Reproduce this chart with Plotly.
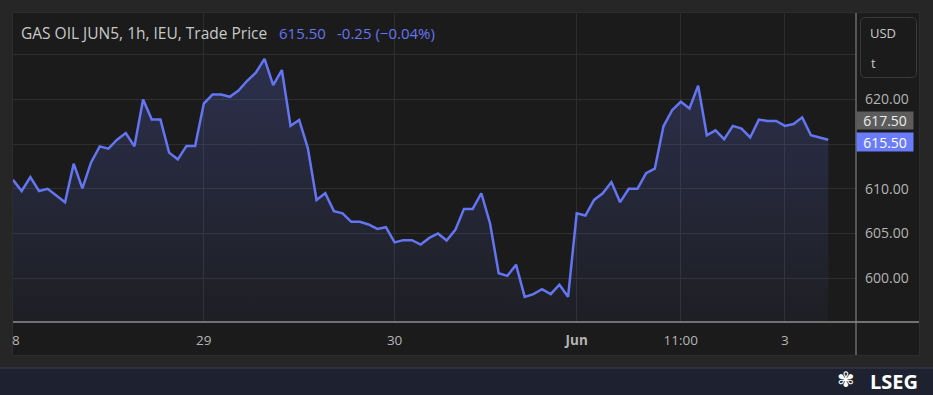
import plotly.graph_objects as go

# ---------------- data ----------------
prices = [
    611.0, 609.75, 611.3, 609.75, 610.0, 609.3, 608.5, 612.8, 610.05, 612.95,
    614.75, 614.5, 615.5, 616.25, 614.75, 620.0, 617.75, 617.75, 614.05, 613.3,
    614.8, 614.8, 619.55, 620.55, 620.55, 620.3, 621.0, 622.1, 623.0, 624.55,
    621.6, 623.3, 617.05, 617.7, 614.55, 608.75, 609.5, 607.5, 607.25, 606.3,
    606.3, 606.0, 605.5, 605.7, 604.0, 604.25, 604.25, 603.75, 604.5, 605.0,
    604.2, 605.4, 607.75, 607.75, 609.5, 606.15, 600.55, 600.25, 601.5, 597.9,
    598.2, 598.75, 598.2, 599.25, 597.9, 607.25, 607.0, 608.75, 609.5, 610.75,
    608.5, 610.0, 610.0, 611.75, 612.25, 617.0, 618.8, 619.75, 619.0, 621.55,
    616.0, 616.55, 615.55, 617.05, 616.75, 615.75, 617.75, 617.6, 617.6, 617.05,
    617.25, 618.0, 616.0, 615.75, 615.5,
]
bar_index = list(range(len(prices)))

x_tick_positions = [22, 44, 65, 77, 89]
x_tick_labels = ["29", "30", "<b>Jun</b>", "11:00", "3"]
first_tick_label = "8"  # "28" clipped at the left edge

y_tick_values = [600, 605, 610, 615, 620, 625]
y_tick_labels = ["600.00", "605.00", "610.00", "", "620.00", ""]

title_text = "GAS OIL JUN5, 1h, IEU, Trade Price"
last_price = prices[-1]
change = -0.25
change_pct = -0.04
ref_price = 617.50

# ---------------- style ----------------
LINE = "#6475f2"
OUTER = "#262626"
PANEL = "#1b1b1b"
GRID = "#2e2e2e"
AXIS = "#8f8f8f"
TXT = "#b4b4b4"
FONT = "Open Sans"

W, H = 933, 395
L, R, T, B = 13, 77, 13, 73
pw = W - L - R
ph = H - T - B


def px(x):
    return (x - L) / pw


def py(y):
    return (H - B - y) / ph


fig = go.Figure()
fig.add_trace(go.Scatter(
    x=bar_index, y=prices, mode="lines",
    line=dict(color=LINE, width=2.5),
    fill="tozeroy",
    fillgradient=dict(
        type="vertical",
        colorscale=[[0, "rgba(100,117,242,0.04)"], [1, "rgba(100,117,242,0.24)"]],
        start=595, stop=626,
    ),
    hoverinfo="skip",
))

shapes = [
    # panel
    dict(type="rect", xref="paper", yref="paper", x0=px(12.5), x1=px(919.5),
         y0=py(355.5), y1=py(12.5), fillcolor=PANEL,
         line=dict(color="#2d2d2d", width=1), layer="below"),
    # footer band
    dict(type="rect", xref="paper", yref="paper", x0=px(0), x1=px(933),
         y0=py(395), y1=py(368), fillcolor="#1e2230", line=dict(width=0), layer="below"),
    dict(type="line", xref="paper", yref="paper", x0=px(0), x1=px(933),
         y0=py(368), y1=py(368), line=dict(color="#3a3f4c", width=1), layer="below"),
    # horizontal axis line
    dict(type="line", xref="paper", yref="paper", x0=0, x1=px(919),
         y0=0, y1=0, line=dict(color=AXIS, width=1.5)),
    # vertical axis separator
    dict(type="line", xref="paper", yref="paper", x0=1, x1=1,
         y0=py(355), y1=py(13), line=dict(color=AXIS, width=1)),
]

# rounded USD box
x0, x1, y0, y1 = px(860.5), px(916.5), py(77.5), py(17.5)
rx, ry = 5 / pw, 5 / ph
path = (f"M {x0+rx},{y1} L {x1-rx},{y1} Q {x1},{y1} {x1},{y1-ry} "
        f"L {x1},{y0+ry} Q {x1},{y0} {x1-rx},{y0} L {x0+rx},{y0} "
        f"Q {x0},{y0} {x0},{y0+ry} L {x0},{y1-ry} Q {x0},{y1} {x0+rx},{y1} Z")
shapes.append(dict(type="path", xref="paper", yref="paper", path=path,
                   fillcolor=PANEL, line=dict(color="#3b3b3b", width=1)))

annotations = [
    dict(xref="paper", yref="paper", x=px(19), y=py(33), xanchor="left", yanchor="middle",
         text=title_text, showarrow=False, font=dict(family=FONT, size=15.5, color="#c8c8c8")),
    dict(xref="paper", yref="paper", x=px(277), y=py(33), xanchor="left", yanchor="middle",
         text=f"{last_price:.2f}", showarrow=False, font=dict(family=FONT, size=15, color=LINE)),
    dict(xref="paper", yref="paper", x=px(335), y=py(33), xanchor="left", yanchor="middle",
         text=f"{change:.2f} ({'−' if change_pct < 0 else '+'}{abs(change_pct):.2f}%)",
         showarrow=False, font=dict(family=FONT, size=15, color=LINE)),
    dict(xref="paper", yref="paper", x=px(868), y=py(33), xanchor="left", yanchor="middle",
         text="USD", showarrow=False, font=dict(family=FONT, size=13, color="#c8c8c8")),
    dict(xref="paper", yref="paper", x=px(869), y=py(63), xanchor="left", yanchor="middle",
         text="t", showarrow=False, font=dict(family=FONT, size=13, color="#c8c8c8")),
    # price tags
    dict(xref="paper", yref="y", x=px(856), y=ref_price, yshift=1.5, xanchor="left", yanchor="middle",
         text=f"{ref_price:.2f}", showarrow=False, bgcolor="#5c5c5c", width=56, height=17,
         borderpad=0, align="center", font=dict(family=FONT, size=14, color="#ececec")),
    dict(xref="paper", yref="y", x=px(856), y=last_price, yshift=-2, xanchor="left", yanchor="middle",
         text=f"{last_price:.2f}", showarrow=False, bgcolor="#6a7cfa", width=56, height=18,
         borderpad=0, align="center", font=dict(family=FONT, size=14, color="#ffffff")),
    # clipped first date label
    dict(xref="paper", yref="paper", x=px(10), y=py(340), xanchor="left", yanchor="middle",
         text=first_tick_label, showarrow=False, font=dict(family=FONT, size=13.5, color=TXT)),
    # logo
    dict(xref="paper", yref="paper", x=px(846), y=py(380), xanchor="center", yanchor="middle",
         text="✾", showarrow=False, borderpad=0, font=dict(family="DejaVu Sans", size=21, color="#ffffff")),
    dict(xref="paper", yref="paper", x=px(868), y=py(381), xanchor="left", yanchor="middle",
         text="<b>LSEG</b>", showarrow=False, font=dict(family=FONT, size=20, color="#ffffff")),
]

fig.update_layout(
    width=W, height=H,
    margin=dict(l=L, r=R, t=T, b=B),
    paper_bgcolor=OUTER, plot_bgcolor=PANEL,
    showlegend=False,
    shapes=shapes, annotations=annotations,
    xaxis=dict(range=[0, 97.2], tickmode="array", tickvals=x_tick_positions,
               ticktext=x_tick_labels, showgrid=True, gridcolor=GRID, gridwidth=1,
               zeroline=False, showline=False, ticks="", ticklabelstandoff=8,
               tickfont=dict(family=FONT, size=13.5, color=TXT), fixedrange=True),
    yaxis=dict(range=[595.08, 629.69], side="right", tickmode="array",
               tickvals=y_tick_values, ticktext=y_tick_labels, showgrid=True,
               gridcolor=GRID, gridwidth=1, zeroline=False, showline=False,
               ticks="", ticklabelstandoff=8,
               tickfont=dict(family=FONT, size=14, color=TXT), fixedrange=True),
)

fig.write_html("out.html", config={"displayModeBar": False},
               post_script="document.body.style.margin='0';document.body.style.overflow='hidden';")
